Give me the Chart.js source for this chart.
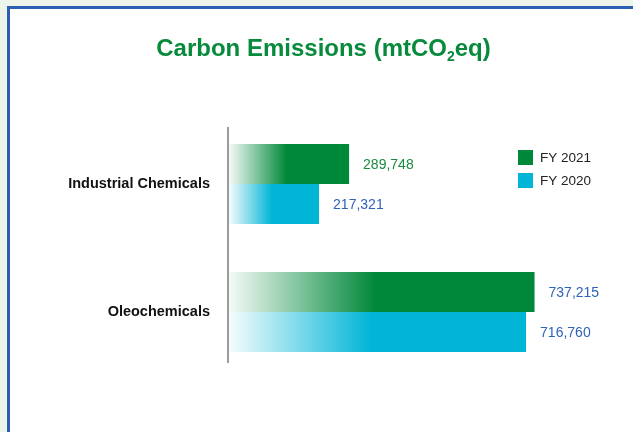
<!DOCTYPE html>
<html>
<head>
<meta charset="utf-8">
<script src="https://cdn.jsdelivr.net/npm/chart.js@4.4.0/dist/chart.umd.min.js"></script>
<style>
  html, body { margin: 0; padding: 0; }
  body { width: 633px; height: 432px; background: #edf5ea; position: relative; overflow: hidden; }
  .frame { position: absolute; left: 7px; top: 6px; width: 700px; height: 500px;
    border: 3px solid #2b5fb6; background: #fff; }
  #chart { position: absolute; left: 0; top: 0; }
</style>
</head>
<body>
<div class="frame"></div>
<canvas id="chart" width="633" height="432"></canvas>
<script>
(function () {
  'use strict';

  var categories = ['Industrial Chemicals', 'Oleochemicals'];
  var seriesNames = ['FY 2021', 'FY 2020'];
  var fy2021 = [289748, 737215];
  var fy2020 = [217321, 716760];

  var GREEN = [0, 136, 58];
  var CYAN = [0, 181, 214];
  // value label colours, per series then per category
  var labelColors = [['#1a8a3f', '#2e63b8'], ['#2e63b8', '#2e63b8']];
  var FONT = 'Arial, "Liberation Sans", Helvetica, sans-serif';

  function rgba(c, a) { return 'rgba(' + c[0] + ',' + c[1] + ',' + c[2] + ',' + a + ')'; }

  // bars fade in from white over roughly the first half of their length
  function fadeFill(color) {
    return function (ctx) {
      var solid = rgba(color, 1);
      if (ctx.type !== 'data') return solid;
      var xs = ctx.chart.scales.x;
      if (!xs || !ctx.chart.chartArea) return solid;
      var x0 = xs.getPixelForValue(0);
      var x1 = xs.getPixelForValue(ctx.raw);
      var g = ctx.chart.ctx.createLinearGradient(x0, 0, x0 + (x1 - x0) * 0.48, 0);
      g.addColorStop(0, rgba(color, 0.04));
      g.addColorStop(1, solid);
      return g;
    };
  }

  // --- title with subscript ---
  var titlePlugin = {
    id: 'subTitle',
    afterDraw: function (chart) {
      var c = chart.ctx;
      var parts = [
        { t: 'Carbon Emissions (mtCO', f: 'bold 24px ' + FONT, dy: 0 },
        { t: '2', f: 'bold 14px ' + FONT, dy: 5 },
        { t: 'eq)', f: 'bold 24px ' + FONT, dy: 0 }
      ];
      c.save();
      var total = 0;
      parts.forEach(function (p) { c.font = p.f; p.w = c.measureText(p.t).width; total += p.w; });
      var x = chart.width / 2 + 7 - total / 2;
      c.fillStyle = '#078a3c';
      c.textBaseline = 'alphabetic';
      c.textAlign = 'left';
      parts.forEach(function (p) { c.font = p.f; c.fillText(p.t, x, 56 + p.dy); x += p.w; });
      c.restore();
    }
  };

  // --- vertical axis line, a bit shorter than the plot area ---
  var axisLinePlugin = {
    id: 'axisLine',
    beforeDatasetsDraw: function (chart) {
      var a = chart.chartArea;
      var c = chart.ctx;
      c.save();
      c.strokeStyle = '#9b9b9b';
      c.lineWidth = 2;
      c.beginPath();
      c.moveTo(a.left - 1, a.top + 7);
      c.lineTo(a.left - 1, a.bottom - 13);
      c.stroke();
      c.restore();
    }
  };

  // --- value labels at bar ends ---
  var valueLabelPlugin = {
    id: 'valueLabels',
    afterDatasetsDraw: function (chart) {
      var c = chart.ctx;
      c.save();
      c.font = '14px ' + FONT;
      c.textBaseline = 'middle';
      c.textAlign = 'left';
      chart.data.datasets.forEach(function (ds, di) {
        chart.getDatasetMeta(di).data.forEach(function (el, i) {
          c.fillStyle = labelColors[di][i];
          c.fillText(ds.data[i].toLocaleString('en-US'), el.x + 14, el.y + 1);
        });
      });
      c.restore();
    }
  };

  // --- legend inside the plot, top right ---
  var legendPlugin = {
    id: 'boxLegend',
    afterDraw: function (chart) {
      var a = chart.chartArea;
      var c = chart.ctx;
      var colors = [GREEN, CYAN];
      c.save();
      c.font = '13.5px ' + FONT;
      c.textBaseline = 'middle';
      chart.data.datasets.forEach(function (ds, i) {
        var x = a.right - 84;
        var y = a.top + 30 + i * 23;
        c.fillStyle = rgba(colors[i], 1);
        c.fillRect(x, y, 15, 15);
        c.fillStyle = '#222';
        c.fillText(ds.label, x + 22, y + 8);
      });
      c.restore();
    }
  };

  new Chart(document.getElementById('chart'), {
    type: 'bar',
    data: {
      labels: categories,
      datasets: [{
        label: seriesNames[0],
        data: fy2021,
        backgroundColor: fadeFill(GREEN),
        borderWidth: 0,
        categoryPercentage: 0.625,
        barPercentage: 1.0
      }, {
        label: seriesNames[1],
        data: fy2020,
        backgroundColor: fadeFill(CYAN),
        borderWidth: 0,
        categoryPercentage: 0.625,
        barPercentage: 1.0
      }]
    },
    options: {
      indexAxis: 'y',
      responsive: false,
      animation: false,
      devicePixelRatio: 1,
      layout: { padding: { left: 0, top: 120, right: 31, bottom: 56 } },
      plugins: {
        legend: { display: false },
        title: { display: false },
        tooltip: { enabled: false }
      },
      scales: {
        x: { display: false, min: 0, max: 900000 },
        y: {
          grid: { display: false, drawTicks: false },
          border: { display: false },
          ticks: {
            color: '#111',
            font: { family: FONT, size: 14.5, weight: 'bold' },
            padding: 19
          },
          afterFit: function (scale) { scale.width = 229; }
        }
      }
    },
    plugins: [titlePlugin, axisLinePlugin, valueLabelPlugin, legendPlugin]
  });
})();
</script>
</body>
</html>
